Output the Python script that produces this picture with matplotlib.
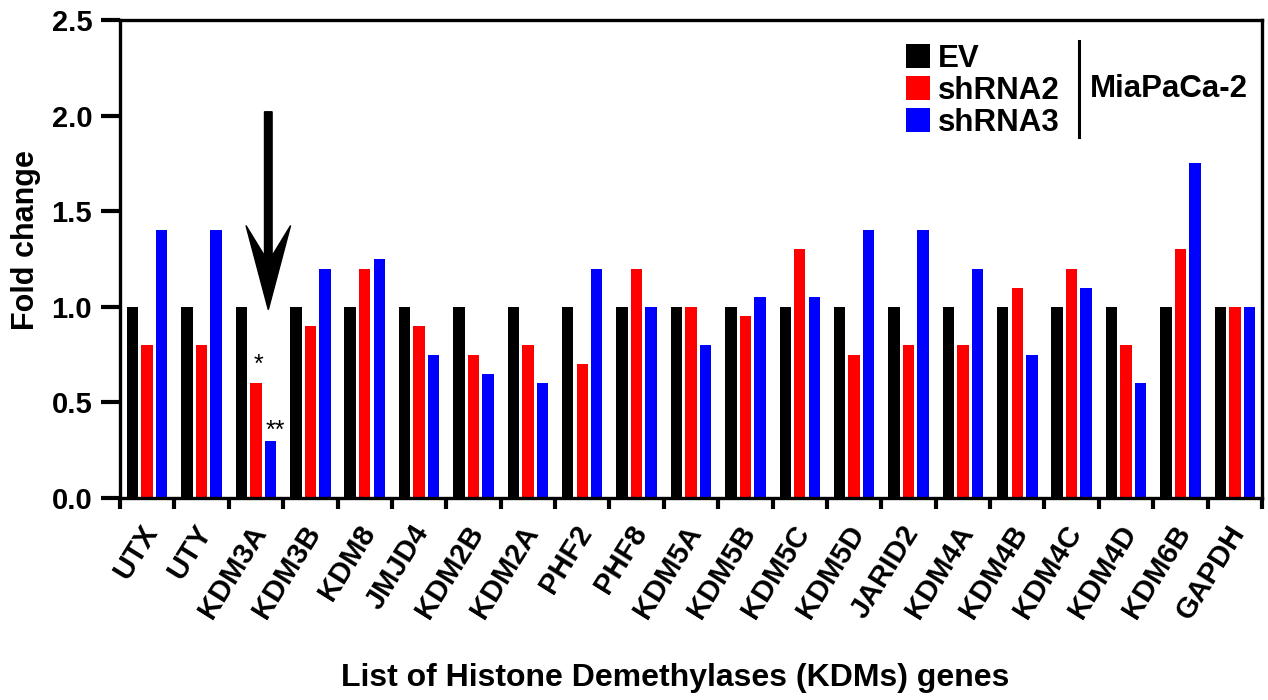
import matplotlib
matplotlib.use("Agg")
import matplotlib.pyplot as plt
import matplotlib.transforms as mtransforms
from matplotlib.patches import Patch
import numpy as np

genes = ["UTX", "UTY", "KDM3A", "KDM3B", "KDM8", "JMJD4", "KDM2B", "KDM2A",
         "PHF2", "PHF8", "KDM5A", "KDM5B", "KDM5C", "KDM5D", "JARID2",
         "KDM4A", "KDM4B", "KDM4C", "KDM4D", "KDM6B", "GAPDH"]
ev = [1.0] * 21
shrna2 = [0.80, 0.80, 0.60, 0.90, 1.20, 0.90, 0.75, 0.80, 0.70, 1.20, 1.00,
          0.95, 1.30, 0.75, 0.80, 0.80, 1.10, 1.20, 0.80, 1.30, 1.00]
shrna3 = [1.40, 1.40, 0.30, 1.20, 1.25, 0.75, 0.65, 0.60, 1.20, 1.00, 0.80,
          1.05, 1.05, 1.40, 1.40, 1.20, 0.75, 1.10, 0.60, 1.75, 1.00]
series_names = ["EV", "shRNA2", "shRNA3"]
colors = ["#000000", "#ff0000", "#0000ff"]
yticks = [0.0, 0.5, 1.0, 1.5, 2.0, 2.5]

plt.rcParams['font.family'] = ['Liberation Sans', 'DejaVu Sans']
plt.rcParams['font.weight'] = 'bold'

fig = plt.figure(figsize=(12.68, 7.0), dpi=100)
ax = fig.add_axes([120/1268, 1-498/700, 1142/1268, 478/700])

x = np.arange(len(genes))
pitch = 0.267
width = 0.21
for k, (vals, c, name) in enumerate(zip([ev, shrna2, shrna3], colors, series_names)):
    ax.bar(x + (k - 1) * pitch, vals, width=width, color=c, label=name, linewidth=0)

ax.set_xlim(-0.5, len(genes) - 0.5)
ax.set_ylim(0, 2.5)
ax.set_yticks(yticks)
ax.set_yticklabels([f"{v:.1f}" for v in yticks], fontsize=21, fontweight='bold')

ax.set_xticks(np.arange(-0.5, len(genes) + 0.5, 1.0))
ax.set_xticklabels([])
ax.set_xticks(x, minor=True)
ax.set_xticklabels(genes, minor=True, rotation=58, ha='right', va='top',
                   rotation_mode='anchor', fontsize=21, fontweight='bold')
ax.tick_params(axis='x', which='minor', length=0, pad=16)
ax.tick_params(axis='x', which='major', length=8, width=3, direction='out')
ax.tick_params(axis='y', length=14, width=3, direction='out', pad=6)
offset = mtransforms.ScaledTranslation(-0.08, 0, fig.dpi_scale_trans)
for lab in ax.get_xticklabels(minor=True):
    lab.set_transform(lab.get_transform() + offset)

for sp in ax.spines.values():
    sp.set_linewidth(2.4)

# arrow
ax.arrow(2.227, 2.02, 0, -1.035, width=0.14, head_width=0.82, head_length=0.44,
         overhang=0.36, length_includes_head=True, color='black')
ax.text(2.055, 0.66, "*", ha='center', va='baseline', fontsize=18, fontweight='normal')
ax.text(2.35, 0.315, "**", ha='center', va='baseline', fontsize=18, fontweight='normal')

# legend
handles = [Patch(facecolor=c, edgecolor='none', label=n) for c, n in zip(colors, series_names)]
ax.legend(handles=handles, loc='upper left', bbox_to_anchor=(0.688, 0.95),
          frameon=False, borderpad=0, borderaxespad=0, handlelength=0.78,
          handleheight=0.78, handletextpad=0.25, labelspacing=0.06,
          prop={'size': 22.5, 'weight': 'bold'})
ax.plot([0.840, 0.840], [0.755, 0.956], transform=ax.transAxes, color='black', lw=2.2,
        clip_on=False)
ax.text(0.849, 0.856, "MiaPaCa-2", transform=ax.transAxes, ha='left', va='center',
        fontsize=22.5, fontweight='bold')

fig.text(26/1268, 1-240/700, "Fold change", rotation=90, ha='center', va='center',
         fontsize=22, fontweight='bold')
fig.text(675/1268, 1-678/700, "List of Histone Demethylases (KDMs) genes",
         ha='center', va='center', fontsize=23, fontweight='bold')

fig.savefig("out.png", dpi=100)
